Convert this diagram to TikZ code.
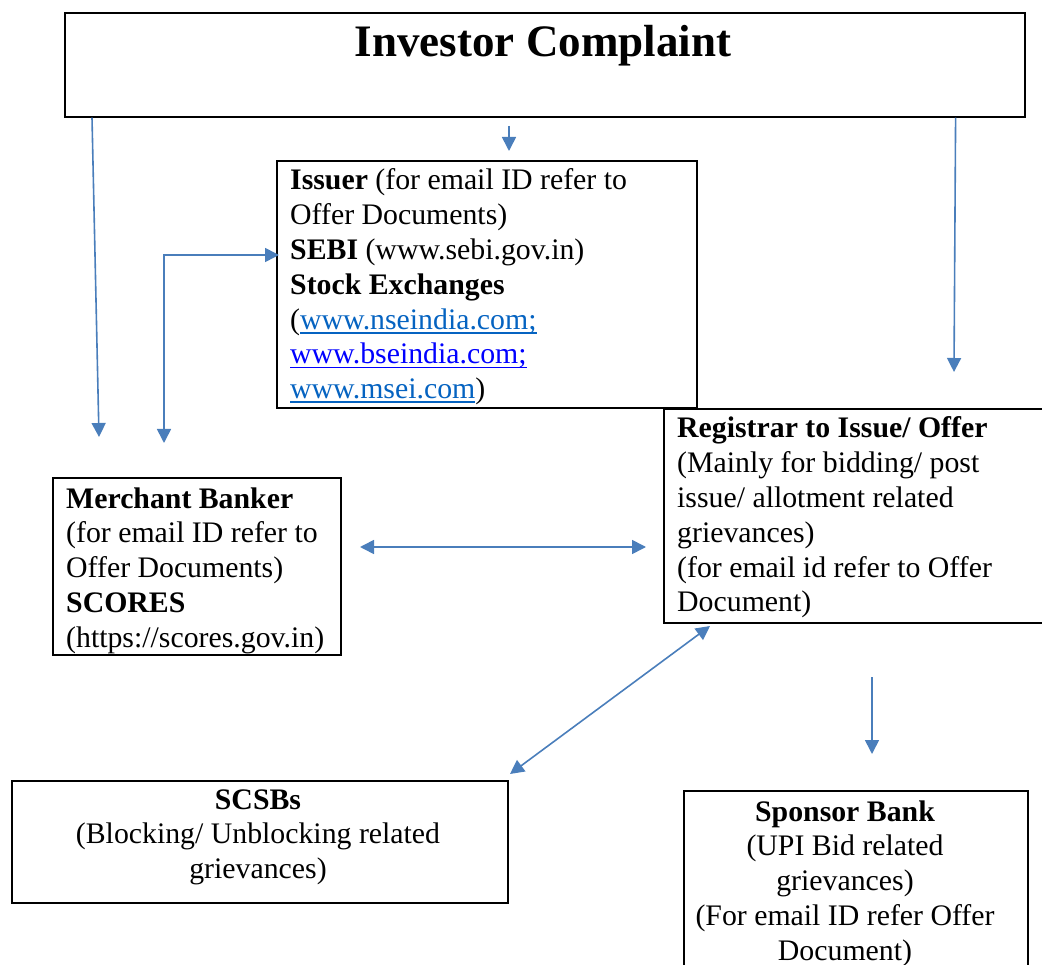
\documentclass[tikz,border=0pt]{standalone}
\usepackage{fontspec}
\setmainfont{Liberation Serif}
\usetikzlibrary{arrows.meta}
\definecolor{arrowc}{RGB}{74,126,187}
\definecolor{linkA}{RGB}{5,99,193}
\definecolor{linkB}{RGB}{0,0,255}
\newcommand{\myul}[1]{\setbox0\hbox{#1}\rlap{\rule[-4.5pt]{\wd0}{1.8pt}}\box0}
\newcommand{\lkA}[1]{\textcolor{linkA}{\myul{#1}}}
\newcommand{\lkB}[1]{\textcolor{linkB}{\myul{#1}}}
\begin{document}
\begin{tikzpicture}[x=1pt,y=-1pt,
  box/.style={draw=black, line width=1.6pt, inner sep=0pt, anchor=north west},
  txt/.style={inner sep=0pt, anchor=base west, font=\fontsize{29.8}{34.8}\selectfont},
  ctxt/.style={inner sep=0pt, anchor=base, font=\fontsize{29.8}{34.8}\selectfont},
  arr/.style={draw=arrowc, line width=1.6pt},
  >={Triangle[length=14pt,width=14pt]}]
\useasboundingbox (0,0) rectangle (1042,965);
\clip (0,0) rectangle (1042,965);
% boxes
\node[box, minimum width=960pt, minimum height=104pt] (title) at (64,12) {};
\node[box, minimum width=420pt, minimum height=247pt] (issuer) at (276,160) {};
\node[box, minimum width=390pt, minimum height=214pt] (reg) at (663,408) {};
\node[box, minimum width=288pt, minimum height=177pt] (mb) at (52,477) {};
\node[box, minimum width=496pt, minimum height=122pt] (scsb) at (11,780) {};
\node[box, minimum width=344pt, minimum height=190pt] (sponsor) at (683,790) {};
% texts
\node[inner sep=0pt, anchor=base, font=\fontsize{45}{54}\selectfont\bfseries] (titleT) at (543,57) {Investor Complaint};
\node[txt] (issuerT) at (290,190) {\begin{tabular}[t]{@{}l@{}}\textbf{Issuer} (for email ID refer to\\ Offer Documents)\\ \textbf{SEBI} (www.sebi.gov.in)\\ \textbf{Stock Exchanges}\\ (\lkA{www.nseindia.com;}\\ \lkB{www.bseindia.com;}\\ \lkA{www.msei.com})\end{tabular}};
\node[txt] (regT) at (677,438) {\begin{tabular}[t]{@{}l@{}}\textbf{Registrar to Issue/ Offer}\\ (Mainly for bidding/ post\\ issue/ allotment related\\ grievances)\\ (for email id refer to Offer\\ Document)\end{tabular}};
\node[txt] (mbT) at (66,508) {\begin{tabular}[t]{@{}l@{}}\textbf{Merchant Banker}\\ (for email ID refer to\\ Offer Documents)\\ \textbf{SCORES}\\ (https://scores.gov.in)\end{tabular}};
\node[ctxt] (scsbT) at (258,809) {\begin{tabular}[t]{@{}c@{}}\textbf{SCSBs}\\ (Blocking/ Unblocking related\\ grievances)\end{tabular}};
\node[ctxt] (sponsorT) at (845,821) {\begin{tabular}[t]{@{}c@{}}\textbf{Sponsor Bank}\\ (UPI Bid related\\ grievances)\\ (For email ID refer Offer\\ Document)\end{tabular}};
% free ends of connectors
\coordinate (leftEnd) at (99,437);
\coordinate (issTop) at (509,126);
\coordinate (issTip) at (509,151);
\coordinate (rightEnd) at (954,372);
\coordinate (elbowEnd) at (164,443);
\coordinate (elbowTip) at (279,255);
\coordinate (hL) at (360,547);
\coordinate (hR) at (646,547);
\coordinate (dU) at (710,626);
\coordinate (dL) at (510,774);
\coordinate (sTop) at (872,677);
\coordinate (sTip) at (872,754);
% connectors
\draw[arr, ->] ([xshift=28pt]title.south west) -- (leftEnd);
\draw[arr, ->] (issTop) -- (issTip);
\draw[arr, ->] ([xshift=-70pt]title.south east) -- (rightEnd);
\draw[arr, <->] (elbowEnd) |- (elbowTip);
\draw[arr, <->] (hL) -- (hR);
\draw[arr, <->] (dU) -- (dL);
\draw[arr, ->] (sTop) -- (sTip);
\end{tikzpicture}
\end{document}
